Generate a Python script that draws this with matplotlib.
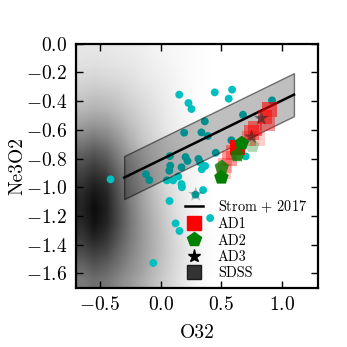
import numpy as np
import matplotlib
matplotlib.use("Agg")
import matplotlib.pyplot as plt
from matplotlib.lines import Line2D

plt.rcParams['font.family'] = ['cmr10']
plt.rcParams['mathtext.fontset'] = 'cm'
plt.rcParams['axes.formatter.use_mathtext'] = True
plt.rcParams['axes.unicode_minus'] = True

# ---- SDSS density (darkness 0..1), rows from top (y=-0.05) to bottom (y=-1.65),
# columns x = -0.65 ... 1.25 step 0.1
sdss_x = [-0.65, -0.55, -0.45, -0.35, -0.25, -0.15, -0.05, 0.05, 0.15, 0.25,
          0.35, 0.45, 0.55, 0.65, 0.75, 0.85, 0.95, 1.05, 1.15, 1.25]
sdss_y = [-0.05, -0.15, -0.25, -0.35, -0.45, -0.55, -0.65, -0.75, -0.85,
          -0.95, -1.05, -1.15, -1.25, -1.35, -1.45, -1.55, -1.65]
sdss_density = [
    [0.10, 0.10, 0.10, 0.09, 0.08, 0.07, 0.05, 0.04, 0.03, 0.02, 0.01, 0, 0, 0, 0, 0, 0, 0, 0, 0],
    [0.12, 0.13, 0.12, 0.11, 0.10, 0.08, 0.06, 0.05, 0.03, 0.02, 0.01, 0, 0, 0, 0, 0, 0, 0, 0, 0],
    [0.16, 0.17, 0.16, 0.15, 0.13, 0.10, 0.08, 0.06, 0.04, 0.02, 0.01, 0, 0, 0, 0, 0, 0, 0, 0, 0],
    [0.21, 0.23, 0.22, 0.20, 0.16, 0.13, 0.10, 0.07, 0.04, 0.02, 0.01, 0, 0, 0, 0, 0, 0, 0, 0, 0],
    [0.28, 0.30, 0.29, 0.25, 0.20, 0.16, 0.12, 0.08, 0.05, 0.03, 0.01, 0, 0, 0, 0, 0, 0, 0, 0, 0],
    [0.37, 0.40, 0.38, 0.32, 0.25, 0.19, 0.14, 0.09, 0.06, 0.03, 0.01, 0, 0, 0, 0, 0, 0, 0, 0, 0],
    [0.48, 0.52, 0.48, 0.40, 0.30, 0.22, 0.16, 0.10, 0.06, 0.03, 0.01, 0, 0, 0, 0, 0, 0, 0, 0, 0],
    [0.60, 0.65, 0.60, 0.48, 0.36, 0.26, 0.18, 0.12, 0.07, 0.04, 0.02, 0, 0, 0, 0, 0, 0, 0, 0, 0],
    [0.70, 0.76, 0.70, 0.56, 0.42, 0.30, 0.20, 0.13, 0.08, 0.04, 0.02, 0, 0, 0, 0, 0, 0, 0, 0, 0],
    [0.78, 0.85, 0.80, 0.63, 0.46, 0.33, 0.22, 0.14, 0.09, 0.05, 0.02, 0, 0, 0, 0, 0, 0, 0, 0, 0],
    [0.84, 0.92, 0.86, 0.68, 0.50, 0.36, 0.25, 0.16, 0.10, 0.05, 0.02, 0, 0, 0, 0, 0, 0, 0, 0, 0],
    [0.86, 0.95, 0.88, 0.70, 0.52, 0.38, 0.27, 0.18, 0.11, 0.06, 0.02, 0, 0, 0, 0, 0, 0, 0, 0, 0],
    [0.84, 0.93, 0.86, 0.70, 0.53, 0.40, 0.29, 0.20, 0.12, 0.06, 0.02, 0, 0, 0, 0, 0, 0, 0, 0, 0],
    [0.78, 0.86, 0.80, 0.66, 0.52, 0.40, 0.30, 0.21, 0.13, 0.07, 0.03, 0.01, 0, 0, 0, 0, 0, 0, 0, 0],
    [0.70, 0.76, 0.72, 0.60, 0.49, 0.39, 0.30, 0.21, 0.14, 0.08, 0.03, 0.01, 0, 0, 0, 0, 0, 0, 0, 0],
    [0.60, 0.66, 0.62, 0.54, 0.45, 0.37, 0.28, 0.20, 0.13, 0.07, 0.03, 0.01, 0, 0, 0, 0, 0, 0, 0, 0],
    [0.52, 0.57, 0.54, 0.47, 0.40, 0.33, 0.25, 0.18, 0.12, 0.06, 0.02, 0, 0, 0, 0, 0, 0, 0, 0, 0],
]

# ---- cyan comparison galaxies
cyan_o32 = [-0.412, 0.154, 0.447, 0.590, 0.562, 0.230, 0.255, 0.919, 0.680, 0.365,
            0.195, 0.337, 0.390, 0.584, 0.455, 0.077, 0.206, 0.222, 0.313, 0.326,
            0.080, 0.072, 0.173, 0.146, 0.368, 0.340, 0.702, -0.120, -0.093, 0.052,
            0.104, 0.173, 0.176, 0.351, 0.288, 0.074, 0.409, 0.124, 0.156, -0.060]
cyan_ne3o2 = [-0.945, -0.355, -0.339, -0.320, -0.383, -0.413, -0.455, -0.395, -0.495, -0.541,
              -0.620, -0.618, -0.643, -0.673, -0.760, -0.783, -0.790, -0.817, -0.803, -0.827,
              -0.850, -0.885, -0.861, -0.925, -0.852, -0.875, -0.785, -0.910, -0.950, -0.952,
              -0.952, -0.978, -1.000, -1.020, -1.052, -1.096, -1.215, -1.252, -1.305, -1.528]

# ---- Strom+2017 relation
strom_x = [-0.3, 1.1]
strom_y = [-0.933, -0.355]
strom_width = 0.15

# ---- AD samples
ad1_o32 = [0.90, 0.86, 0.88, 0.78, 0.75, 0.80, 0.73, 0.60, 0.57, 0.53, 0.52, 0.633]
ad1_ne3o2 = [-0.46, -0.51, -0.56, -0.59, -0.62, -0.66, -0.66, -0.76, -0.80, -0.85, -0.89, -0.725]
ad1_alpha = [0.6, 0.5, 0.4, 0.5, 0.5, 0.2, 0.3, 0.4, 0.4, 0.3, 0.2, 1.0]

ad2_o32 = [0.757, 0.633, 0.505, 0.669, 0.502]
ad2_ne3o2 = [-0.711, -0.776, -0.861, -0.694, -0.932]
ad2_alpha = [0.3, 0.8, 0.8, 1.0, 1.0]

ad3_o32 = [0.83, 0.75, 0.29]
ad3_ne3o2 = [-0.52, -0.65, -1.05]
ad3_alpha = [0.6, 0.5, 0.3]

fig = plt.figure(figsize=(3.47, 3.47), dpi=100)
ax = fig.add_axes([0.218, 0.171, 0.699, 0.703])

dx = 0.05
ax.imshow(np.array(sdss_density), cmap='gray_r', vmin=0, vmax=1.0, aspect='auto',
          extent=[sdss_x[0] - dx, sdss_x[-1] + dx, sdss_y[-1] - dx, sdss_y[0] + dx],
          interpolation='bilinear', origin='upper', zorder=0)

ax.scatter(cyan_o32, cyan_ne3o2, s=32, color='c', edgecolors='none', zorder=2)

sx = np.array(strom_x)
sy = np.array(strom_y)
ax.fill_between(sx, sy - strom_width, sy + strom_width, facecolor=(0, 0, 0, 0.25),
                edgecolor=(0, 0, 0, 0.5), linewidth=1.0, zorder=3)
ax.plot(sx, sy, color='k', lw=1.8, zorder=4)

for x, y, a in zip(ad1_o32, ad1_ne3o2, ad1_alpha):
    ax.scatter([x], [y], s=110, marker='s', color='red', alpha=a, edgecolors='none', zorder=5)
for x, y, a in zip(ad2_o32, ad2_ne3o2, ad2_alpha):
    ax.scatter([x], [y], s=120, marker='p', color='green', alpha=a, edgecolors='none', zorder=6)
for x, y, a in zip(ad3_o32, ad3_ne3o2, ad3_alpha):
    ax.scatter([x], [y], s=130, marker='*', color='0.15', alpha=a, edgecolors='none', zorder=7)

ax.set_xlim(-0.7, 1.3)
ax.set_ylim(-1.7, 0.0)
ax.set_xticks([-0.5, 0.0, 0.5, 1.0])
ax.set_yticks([-1.6, -1.4, -1.2, -1.0, -0.8, -0.6, -0.4, -0.2, 0.0])
ax.tick_params(direction='in', top=True, right=True, length=5, width=1.0, labelsize=14, pad=6)
for sp in ax.spines.values():
    sp.set_linewidth(1.6)

ax.set_xlabel('O32', fontsize=14, labelpad=7)
ax.set_ylabel('Ne3O2', fontsize=14, labelpad=0)

handles = [
    Line2D([], [], color='k', lw=1.8),
    Line2D([], [], marker='s', color='red', ls='none', markersize=10),
    Line2D([], [], marker='p', color='green', ls='none', markersize=10.5),
    Line2D([], [], marker='*', color='k', ls='none', markersize=9.5),
    Line2D([], [], marker='s', color='0.2', ls='none', markersize=10, markeredgecolor='0.1'),
]
labels = [r'Strom $+$ 2017', 'AD1', 'AD2', 'AD3', 'SDSS']
ax.legend(handles, labels, loc='lower right', bbox_to_anchor=(0.995, -0.01), frameon=False,
          fontsize=10.3, handlelength=1.3, handletextpad=1.0, labelspacing=0.18,
          borderaxespad=0.3)

fig.savefig('out.png', dpi=100)
